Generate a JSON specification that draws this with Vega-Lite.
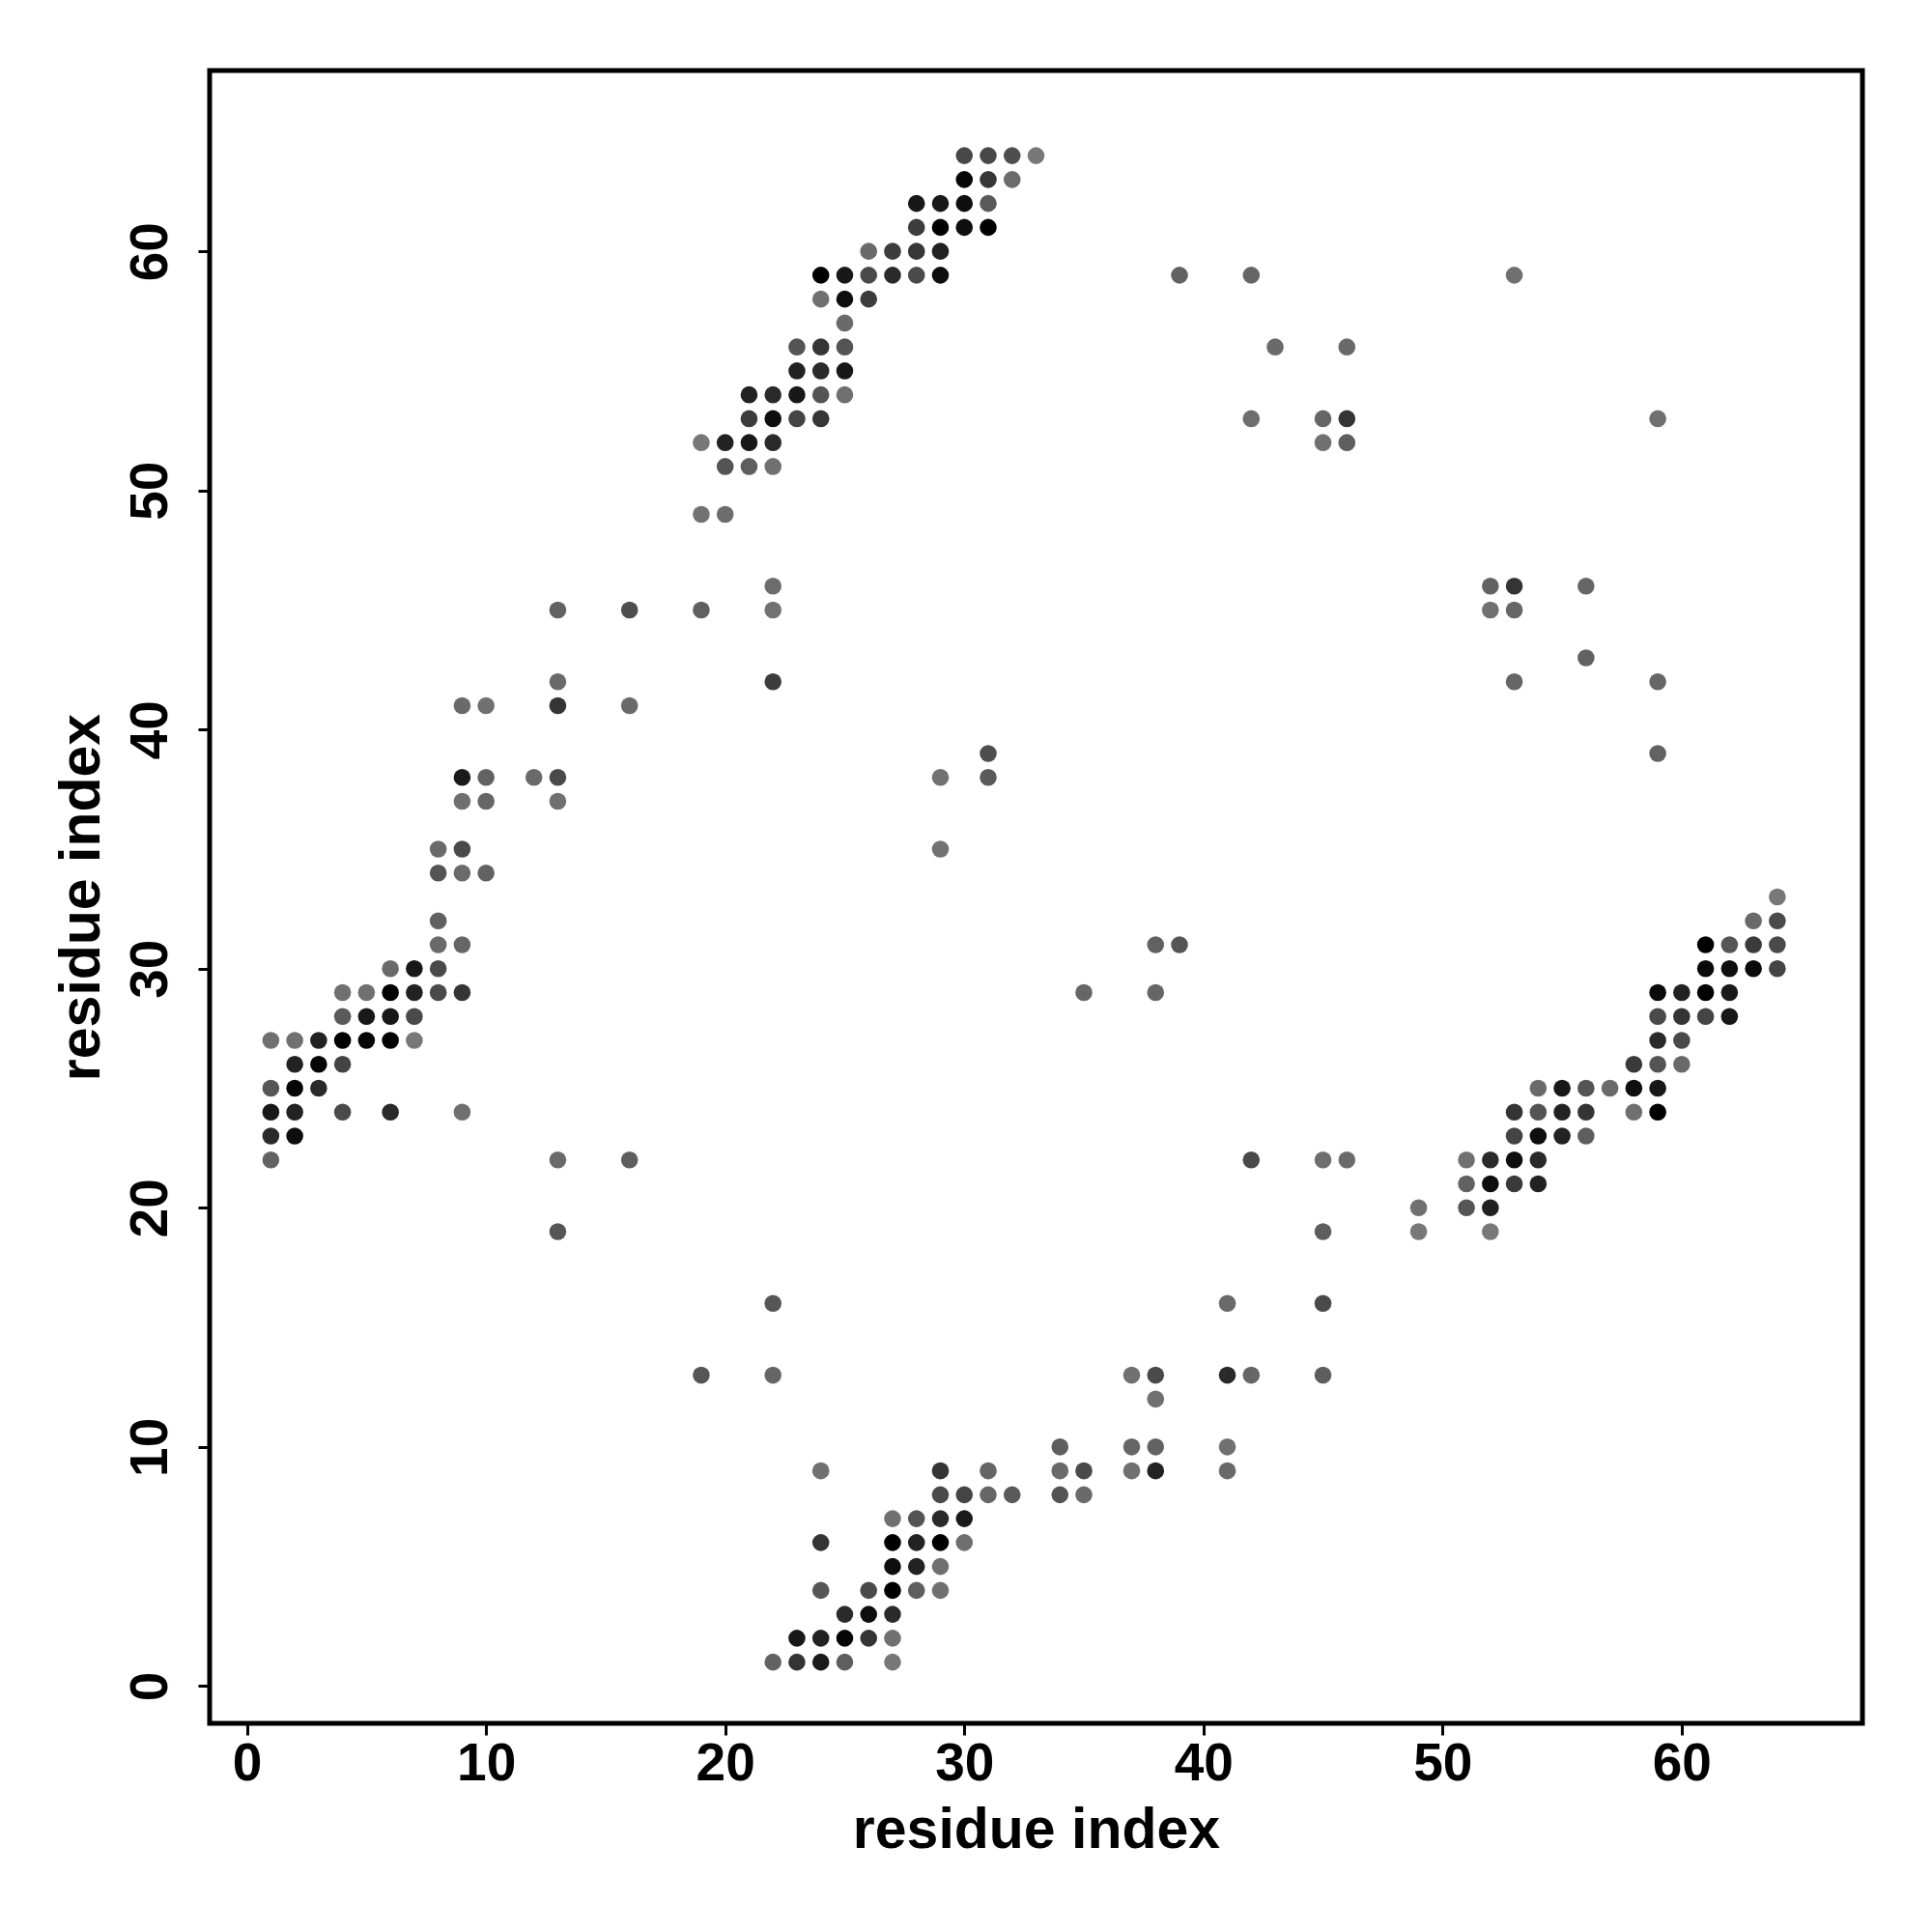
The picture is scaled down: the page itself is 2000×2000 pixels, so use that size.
{
  "$schema": "https://vega.github.io/schema/vega-lite/v6.json",
  "width": 1711,
  "height": 1711,
  "autosize": {"type": "none"},
  "padding": {"left": 217, "top": 73, "right": 72, "bottom": 216},
  "background": "white",
  "data": {
    "values": [
      {"i":30,"j":64,"score":0.4},{"i":31,"j":64,"score":0.4},{"i":32,"j":64,"score":0.35},{"i":33,"j":64,"score":0.0},
      {"i":30,"j":63,"score":0.95},{"i":31,"j":63,"score":0.55},{"i":32,"j":63,"score":0.1},
      {"i":28,"j":62,"score":0.8},{"i":29,"j":62,"score":0.8},{"i":30,"j":62,"score":0.88},{"i":31,"j":62,"score":0.25},
      {"i":28,"j":61,"score":0.5},{"i":29,"j":61,"score":1.0},{"i":30,"j":61,"score":0.88},{"i":31,"j":61,"score":1.0},
      {"i":26,"j":60,"score":0.12},{"i":27,"j":60,"score":0.5},{"i":28,"j":60,"score":0.55},{"i":29,"j":60,"score":0.72},
      {"i":24,"j":59,"score":1.0},{"i":25,"j":59,"score":0.8},{"i":26,"j":59,"score":0.38},{"i":27,"j":59,"score":0.65},{"i":28,"j":59,"score":0.38},{"i":29,"j":59,"score":0.88},
      {"i":24,"j":58,"score":0.07},{"i":25,"j":58,"score":0.88},{"i":26,"j":58,"score":0.5},
      {"i":25,"j":57,"score":0.12},
      {"i":23,"j":56,"score":0.3},{"i":24,"j":56,"score":0.55},{"i":25,"j":56,"score":0.3},
      {"i":23,"j":55,"score":0.72},{"i":24,"j":55,"score":0.65},{"i":25,"j":55,"score":0.8},
      {"i":21,"j":54,"score":0.72},{"i":22,"j":54,"score":0.65},{"i":23,"j":54,"score":0.8},{"i":24,"j":54,"score":0.3},{"i":25,"j":54,"score":0.07},
      {"i":21,"j":53,"score":0.5},{"i":22,"j":53,"score":0.88},{"i":23,"j":53,"score":0.43},{"i":24,"j":53,"score":0.55},
      {"i":19,"j":52,"score":0.0},{"i":20,"j":52,"score":0.72},{"i":21,"j":52,"score":0.8},{"i":22,"j":52,"score":0.65},
      {"i":20,"j":51,"score":0.3},{"i":21,"j":51,"score":0.22},{"i":22,"j":51,"score":0.07},
      {"i":19,"j":49,"score":0.05},{"i":20,"j":49,"score":0.1},
      {"i":22,"j":46,"score":0.1},
      {"i":19,"j":45,"score":0.2},{"i":22,"j":45,"score":0.05},
      {"i":22,"j":42,"score":0.5},
      {"i":31,"j":39,"score":0.35},
      {"i":29,"j":38,"score":0.05},{"i":31,"j":38,"score":0.25},
      {"i":29,"j":35,"score":0.05},
      {"i":13,"j":45,"score":0.18},{"i":16,"j":45,"score":0.35},
      {"i":13,"j":42,"score":0.12},
      {"i":9,"j":41,"score":0.12},{"i":10,"j":41,"score":0.07},{"i":13,"j":41,"score":0.57},{"i":16,"j":41,"score":0.12},
      {"i":9,"j":38,"score":0.78},{"i":10,"j":38,"score":0.18},{"i":12,"j":38,"score":0.12},{"i":13,"j":38,"score":0.38},
      {"i":9,"j":37,"score":0.07},{"i":10,"j":37,"score":0.15},{"i":13,"j":37,"score":0.07},
      {"i":8,"j":35,"score":0.12},{"i":9,"j":35,"score":0.38},
      {"i":8,"j":34,"score":0.3},{"i":9,"j":34,"score":0.12},{"i":10,"j":34,"score":0.18},
      {"i":8,"j":32,"score":0.2},
      {"i":8,"j":31,"score":0.12},{"i":9,"j":31,"score":0.15},
      {"i":6,"j":30,"score":0.12},{"i":7,"j":30,"score":0.8},{"i":8,"j":30,"score":0.38},
      {"i":4,"j":29,"score":0.07},{"i":5,"j":29,"score":0.07},{"i":6,"j":29,"score":1.0},{"i":7,"j":29,"score":0.72},{"i":8,"j":29,"score":0.38},{"i":9,"j":29,"score":0.57},
      {"i":4,"j":28,"score":0.25},{"i":5,"j":28,"score":0.8},{"i":6,"j":28,"score":0.8},{"i":7,"j":28,"score":0.38},
      {"i":1,"j":27,"score":0.07},{"i":2,"j":27,"score":0.07},{"i":3,"j":27,"score":0.72},{"i":4,"j":27,"score":1.0},{"i":5,"j":27,"score":0.95},{"i":6,"j":27,"score":1.0},{"i":7,"j":27,"score":0.0},
      {"i":2,"j":26,"score":0.72},{"i":3,"j":26,"score":0.95},{"i":4,"j":26,"score":0.43},
      {"i":1,"j":25,"score":0.28},{"i":2,"j":25,"score":0.95},{"i":3,"j":25,"score":0.65},
      {"i":1,"j":24,"score":0.8},{"i":2,"j":24,"score":0.72},{"i":4,"j":24,"score":0.38},{"i":6,"j":24,"score":0.65},{"i":9,"j":24,"score":0.07},
      {"i":1,"j":23,"score":0.65},{"i":2,"j":23,"score":0.88},
      {"i":1,"j":22,"score":0.18},{"i":13,"j":22,"score":0.12},{"i":16,"j":22,"score":0.22},
      {"i":13,"j":19,"score":0.28},
      {"i":22,"j":16,"score":0.28},
      {"i":19,"j":13,"score":0.28},{"i":22,"j":13,"score":0.15},
      {"i":24,"j":9,"score":0.07},{"i":29,"j":9,"score":0.57},{"i":31,"j":9,"score":0.15},{"i":34,"j":9,"score":0.12},{"i":35,"j":9,"score":0.38},{"i":37,"j":9,"score":0.07},{"i":38,"j":9,"score":0.72},{"i":41,"j":9,"score":0.12},
      {"i":29,"j":8,"score":0.38},{"i":30,"j":8,"score":0.43},{"i":31,"j":8,"score":0.15},{"i":32,"j":8,"score":0.25},{"i":34,"j":8,"score":0.3},{"i":35,"j":8,"score":0.12},
      {"i":27,"j":7,"score":0.07},{"i":28,"j":7,"score":0.3},{"i":29,"j":7,"score":0.65},{"i":30,"j":7,"score":0.78},
      {"i":24,"j":6,"score":0.57},{"i":27,"j":6,"score":1.0},{"i":28,"j":6,"score":0.72},{"i":29,"j":6,"score":1.0},{"i":30,"j":6,"score":0.08},
      {"i":27,"j":5,"score":0.88},{"i":28,"j":5,"score":0.72},{"i":29,"j":5,"score":0.07},
      {"i":24,"j":4,"score":0.28},{"i":26,"j":4,"score":0.38},{"i":27,"j":4,"score":1.0},{"i":28,"j":4,"score":0.22},{"i":29,"j":4,"score":0.07},
      {"i":25,"j":3,"score":0.65},{"i":26,"j":3,"score":0.88},{"i":27,"j":3,"score":0.65},
      {"i":23,"j":2,"score":0.8},{"i":24,"j":2,"score":0.72},{"i":25,"j":2,"score":0.95},{"i":26,"j":2,"score":0.57},{"i":27,"j":2,"score":0.07},
      {"i":22,"j":1,"score":0.18},{"i":23,"j":1,"score":0.57},{"i":24,"j":1,"score":0.78},{"i":25,"j":1,"score":0.22},{"i":27,"j":1,"score":0.0},
      {"i":34,"j":10,"score":0.22},{"i":37,"j":10,"score":0.15},{"i":38,"j":10,"score":0.18},{"i":41,"j":10,"score":0.07},
      {"i":38,"j":12,"score":0.07},
      {"i":37,"j":13,"score":0.07},{"i":38,"j":13,"score":0.38},{"i":41,"j":13,"score":0.65},{"i":42,"j":13,"score":0.15},{"i":45,"j":13,"score":0.22},
      {"i":41,"j":16,"score":0.12},{"i":45,"j":16,"score":0.38},
      {"i":45,"j":19,"score":0.22},
      {"i":42,"j":22,"score":0.38},{"i":45,"j":22,"score":0.08},{"i":46,"j":22,"score":0.12},
      {"i":35,"j":29,"score":0.15},{"i":38,"j":29,"score":0.15},
      {"i":38,"j":31,"score":0.18},{"i":39,"j":31,"score":0.28},
      {"i":64,"j":33,"score":0.0},
      {"i":63,"j":32,"score":0.12},{"i":64,"j":32,"score":0.38},
      {"i":61,"j":31,"score":1.0},{"i":62,"j":31,"score":0.28},{"i":63,"j":31,"score":0.52},{"i":64,"j":31,"score":0.38},
      {"i":61,"j":30,"score":0.92},{"i":62,"j":30,"score":0.88},{"i":63,"j":30,"score":0.92},{"i":64,"j":30,"score":0.43},
      {"i":59,"j":29,"score":0.92},{"i":60,"j":29,"score":0.72},{"i":61,"j":29,"score":1.0},{"i":62,"j":29,"score":0.78},
      {"i":59,"j":28,"score":0.38},{"i":60,"j":28,"score":0.57},{"i":61,"j":28,"score":0.43},{"i":62,"j":28,"score":0.8},
      {"i":59,"j":27,"score":0.65},{"i":60,"j":27,"score":0.38},
      {"i":58,"j":26,"score":0.52},{"i":59,"j":26,"score":0.3},{"i":60,"j":26,"score":0.12},
      {"i":54,"j":25,"score":0.12},{"i":55,"j":25,"score":0.8},{"i":56,"j":25,"score":0.3},{"i":57,"j":25,"score":0.12},{"i":58,"j":25,"score":0.88},{"i":59,"j":25,"score":0.8},
      {"i":53,"j":24,"score":0.57},{"i":54,"j":24,"score":0.3},{"i":55,"j":24,"score":0.72},{"i":56,"j":24,"score":0.57},{"i":58,"j":24,"score":0.07},{"i":59,"j":24,"score":1.0},
      {"i":53,"j":23,"score":0.43},{"i":54,"j":23,"score":0.88},{"i":55,"j":23,"score":0.72},{"i":56,"j":23,"score":0.22},
      {"i":51,"j":22,"score":0.07},{"i":52,"j":22,"score":0.65},{"i":53,"j":22,"score":0.88},{"i":54,"j":22,"score":0.65},
      {"i":51,"j":21,"score":0.18},{"i":52,"j":21,"score":0.88},{"i":53,"j":21,"score":0.52},{"i":54,"j":21,"score":0.72},
      {"i":49,"j":20,"score":0.07},{"i":51,"j":20,"score":0.28},{"i":52,"j":20,"score":0.72},
      {"i":49,"j":19,"score":0.0},{"i":52,"j":19,"score":0.0},
      {"i":39,"j":59,"score":0.18},{"i":42,"j":59,"score":0.15},{"i":53,"j":59,"score":0.07},
      {"i":43,"j":56,"score":0.12},{"i":46,"j":56,"score":0.12},
      {"i":42,"j":53,"score":0.08},{"i":45,"j":53,"score":0.15},{"i":46,"j":53,"score":0.57},{"i":59,"j":53,"score":0.07},
      {"i":45,"j":52,"score":0.07},{"i":46,"j":52,"score":0.22},
      {"i":52,"j":46,"score":0.18},{"i":53,"j":46,"score":0.57},{"i":56,"j":46,"score":0.15},
      {"i":52,"j":45,"score":0.07},{"i":53,"j":45,"score":0.15},
      {"i":56,"j":43,"score":0.18},
      {"i":53,"j":42,"score":0.15},{"i":59,"j":42,"score":0.15},
      {"i":59,"j":39,"score":0.18}
    ]
  },
  "mark": {"type": "circle", "size": 310, "opacity": 1, "stroke": null},
  "encoding": {
    "x": {
      "field": "i", "type": "quantitative",
      "scale": {"domain": [-1.56, 67.56], "nice": false, "zero": false},
      "axis": {
        "values": [0, 10, 20, 30, 40, 50, 60],
        "title": "residue index",
        "grid": false, "domain": false,
        "tickSize": 12, "tickWidth": 3, "tickColor": "black",
        "labelFont": "Liberation Sans", "labelFontWeight": "bold", "labelFontSize": 55, "labelColor": "black",
        "labelBaseline": "alphabetic", "labelPadding": 46, "labelFlush": false, "labelOverlap": false,
        "titleFont": "Liberation Sans", "titleFontWeight": "bold", "titleFontSize": 59, "titleColor": "black",
        "titleX": 855.5, "titleY": 128, "titleBaseline": "alphabetic", "titleAlign": "center"
      }
    },
    "y": {
      "field": "j", "type": "quantitative",
      "scale": {"domain": [-1.56, 67.56], "nice": false, "zero": false},
      "axis": {
        "values": [0, 10, 20, 30, 40, 50, 60],
        "title": "residue index",
        "grid": false, "domain": false,
        "tickSize": 12, "tickWidth": 3, "tickColor": "black",
        "labelFont": "Liberation Sans", "labelFontWeight": "bold", "labelFontSize": 55, "labelColor": "black",
        "labelAngle": 270, "labelAlign": "center", "labelBaseline": "alphabetic", "labelPadding": 33,
        "labelFlush": false, "labelOverlap": false,
        "titleFont": "Liberation Sans", "titleFontWeight": "bold", "titleFontSize": 59, "titleColor": "black",
        "titleAngle": 270, "titleX": -115, "titleY": 855.5, "titleBaseline": "alphabetic", "titleAlign": "center"
      }
    },
    "color": {
      "field": "score", "type": "quantitative",
      "scale": {"domain": [0, 1], "range": ["#787878", "#000000"], "interpolate": "rgb"},
      "legend": null
    }
  },
  "config": {
    "view": {"stroke": "black", "strokeWidth": 5, "fill": "white"}
  }
}
